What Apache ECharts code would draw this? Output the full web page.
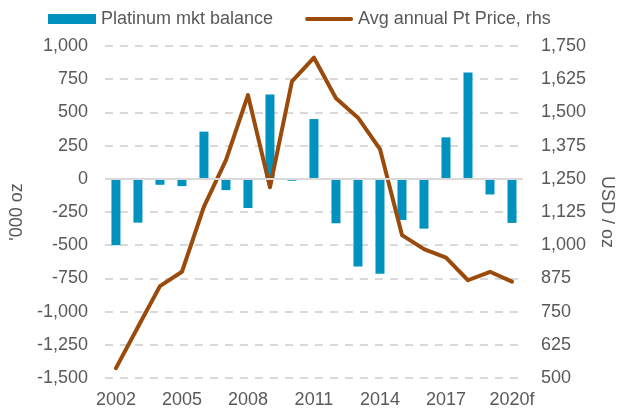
<!DOCTYPE html>
<html lang="en">
<head>
  <meta charset="UTF-8">
  <title>Platinum market balance</title>
  <script src="https://cdn.jsdelivr.net/npm/echarts@6/dist/echarts.min.js"></script>
  <style>
    html, body { margin: 0; padding: 0; background: #fff; }
    #chart { width: 635px; height: 417px; }
  </style>
</head>
<body>
<div id="chart"></div>
<script>
  // data
  var years = ['2002','2003','2004','2005','2006','2007','2008','2009','2010','2011',
               '2012','2013','2014','2015','2016','2017','2018','2019','2020f'];
  var balance = [-500, -330, -45, -55, 355, -85, -220, 635, -15, 450,
                 -335, -660, -715, -310, -375, 312, 800, -118, -332];
  var ptPrice = [537, 692, 846, 900, 1145, 1320, 1565, 1218, 1617, 1706,
                 1553, 1480, 1362, 1038, 985, 953, 868, 900, 863];

  var textColor = '#595959';
  var fontName = 'Liberation Sans';
  var fs = 18;
  var brown = '#9a4b0c';

  function commas(v) { return v.toLocaleString('en-US'); }

  var chart = echarts.init(document.getElementById('chart'));
  var option = {
    animation: false,
    textStyle: { fontFamily: fontName, color: textColor },
    legend: {
      top: 5,
      left: 43,
      itemGap: 32,
      itemWidth: 48,
      itemHeight: 10,
      textStyle: { fontSize: fs, color: textColor, fontFamily: fontName },
      data: [
        { name: 'Platinum mkt balance', icon: 'rect' },
        {
          name: 'Avg annual Pt Price, rhs',
          // thin rounded bar, like the line swatch in the reference
          icon: 'path://M2,0 L46,0 A2,2 0 0 1 46,4 L2,4 A2,2 0 0 1 2,0 Z',
          itemStyle: { color: brown, borderWidth: 0 }
        }
      ]
    },
    grid: { left: 98, right: 112, top: 46, bottom: 39 },
    xAxis: {
      type: 'category',
      data: years,
      axisLine: { show: false, onZero: false },
      axisTick: { show: false },
      axisLabel: { interval: 2, color: textColor, fontSize: fs, margin: 13 }
    },
    yAxis: [
      {
        type: 'value',
        min: -1500, max: 1000, interval: 250,
        name: "'000 oz",
        nameLocation: 'middle',
        nameGap: 70,
        nameTextStyle: { color: textColor, fontSize: fs },
        axisLine: { show: false },
        axisTick: { show: false },
        axisLabel: { color: textColor, fontSize: fs, margin: 17, formatter: commas },
        splitLine: { lineStyle: { color: '#d9d9d9', width: 2, type: [8, 7] } }
      },
      {
        type: 'value',
        min: 500, max: 1750, interval: 125,
        name: 'USD / oz',
        nameLocation: 'middle',
        nameGap: 75,
        nameRotate: -90,
        nameTextStyle: { color: textColor, fontSize: fs },
        axisLine: { show: false },
        axisTick: { show: false },
        axisLabel: { color: textColor, fontSize: fs, margin: 18, formatter: commas },
        splitLine: { show: false }
      }
    ],
    series: [
      {
        name: 'Platinum mkt balance',
        type: 'bar',
        data: balance,
        barWidth: 9,
        itemStyle: { color: '#0092bf' },
        markLine: {
          silent: true,
          symbol: 'none',
          label: { show: false },
          lineStyle: { color: '#d9d9d9', type: 'solid', width: 2 },
          data: [{ yAxis: 0 }]
        }
      },
      {
        name: 'Avg annual Pt Price, rhs',
        type: 'line',
        yAxisIndex: 1,
        data: ptPrice,
        symbol: 'none',
        lineStyle: { color: brown, width: 4, cap: 'round', join: 'round' },
        itemStyle: { color: brown },
        z: 3
      }
    ]
  };
  chart.setOption(option);
</script>
</body>
</html>
